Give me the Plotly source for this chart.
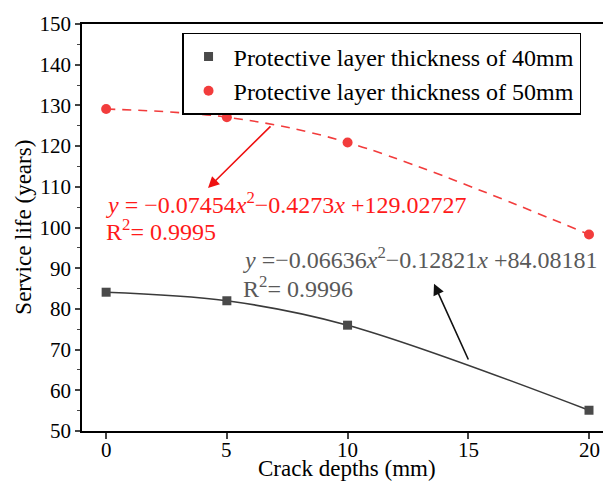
import plotly.graph_objects as go

crack_depths = [0, 5, 10, 20]
life_40mm = [84.1, 82.0, 76.0, 55.1]
life_50mm = [129.1, 127.1, 120.9, 98.3]
series_names = ["Protective layer thickness of 40mm", "Protective layer thickness of 50mm"]
x_ticks = [0, 5, 10, 15, 20]
y_ticks = [50, 60, 70, 80, 90, 100, 110, 120, 130, 140, 150]
x_title = "Crack depths (mm)"
y_title = "Service life (years)"

FONT = "Liberation Serif, Times New Roman, serif"
GRAY = "#4a4a4a"
RED = "#f23c3c"

fig = go.Figure()

# fitted curves (smooth through the points)
fig.add_trace(go.Scatter(x=crack_depths, y=life_40mm, mode="lines", line=dict(color="#3a3a3a", width=1.6, shape="spline"),
                         showlegend=False, hoverinfo="skip"))
fig.add_trace(go.Scatter(x=crack_depths, y=life_50mm, mode="lines", line=dict(color=RED, width=1.6, shape="spline", dash="9px,7px"),
                         showlegend=False, hoverinfo="skip"))
# markers
fig.add_trace(go.Scatter(x=crack_depths, y=life_40mm, mode="markers", name=series_names[0],
                         marker=dict(symbol="square", size=9, color=GRAY)))
fig.add_trace(go.Scatter(x=crack_depths, y=life_50mm, mode="markers", name=series_names[1],
                         marker=dict(symbol="circle", size=10, color=RED)))

EQ = 24
annotations = [
    dict(x=-0.08, y=106.1, xref="x", yref="y", xanchor="left", yanchor="middle", showarrow=False,
         text="<i>y</i> = −0.07454<i>x</i><sup>2</sup>−0.4273<i>x</i> +129.02727",
         font=dict(family=FONT, size=EQ, color="#ff1a1a")),
    dict(x=-0.08, y=99.3, xref="x", yref="y", xanchor="left", yanchor="middle", showarrow=False,
         text="R<sup>2</sup>= 0.9995", font=dict(family=FONT, size=EQ, color="#ff1a1a")),
    dict(x=5.6, y=92.4, xref="x", yref="y", xanchor="left", yanchor="middle", showarrow=False,
         text="<i>y</i> =−0.06636<i>x</i><sup>2</sup>−0.12821<i>x</i> +84.08181",
         font=dict(family=FONT, size=EQ, color="#595959")),
    dict(x=5.6, y=85.3, xref="x", yref="y", xanchor="left", yanchor="middle", showarrow=False,
         text="R<sup>2</sup>= 0.9996", font=dict(family=FONT, size=EQ, color="#595959")),
    dict(x=4.22, y=109.7, ax=6.87, ay=125.2, xref="x", yref="y", axref="x", ayref="y", text="",
         showarrow=True, arrowhead=2, arrowsize=1.4, arrowwidth=1.6, arrowcolor="#ee1111"),
    dict(x=13.58, y=86.2, ax=15.03, ay=67.2, xref="x", yref="y", axref="x", ayref="y", text="",
         showarrow=True, arrowhead=2, arrowsize=1.4, arrowwidth=1.6, arrowcolor="#111111"),
    # axis titles
    dict(x=0.509, y=-0.092, xref="paper", yref="paper", xanchor="center", yanchor="middle", showarrow=False,
         text=x_title, font=dict(family=FONT, size=23, color="black")),
    dict(x=-0.113, y=0.5, xref="paper", yref="paper", xanchor="center", yanchor="middle", showarrow=False,
         text=y_title, textangle=-90, font=dict(family=FONT, size=23, color="black")),
]
# x tick labels, placed at the axis tick values
for t in x_ticks:
    annotations.append(dict(x=t, y=-0.047, xref="x", yref="paper", xanchor="center", yanchor="middle",
                            showarrow=False, text=str(t), font=dict(family=FONT, size=21, color="black")))

fig.update_layout(
    width=603, height=489,
    margin=dict(l=82, r=0, t=24, b=58),
    paper_bgcolor="white", plot_bgcolor="white",
    font=dict(family=FONT, size=21, color="black"),
    showlegend=True,
    legend=dict(x=0.192, y=0.978, xanchor="left", yanchor="top", bgcolor="white",
                bordercolor="black", borderwidth=1.5, font=dict(family=FONT, size=24),
                itemwidth=40, tracegroupgap=0),
    annotations=annotations,
    xaxis=dict(range=[-1, 20.58], tickvals=x_ticks, ticks="outside", ticklen=6, tickwidth=1.5,
               showticklabels=False,
               showline=True, linecolor="black", linewidth=1.5, mirror=True, showgrid=False, zeroline=False),
    yaxis=dict(range=[50, 150], tickvals=y_ticks, ticks="outside", ticklen=5, tickwidth=1.5,
               showline=True, linecolor="black", linewidth=1.5, mirror=False, showgrid=False, zeroline=False,
               minor=dict(dtick=5, ticks="outside", ticklen=3, tickwidth=1.2, showgrid=False),
               tickfont=dict(family=FONT, size=21)),
)

fig.write_html("out.html", config={"displayModeBar": False},
               post_script="document.body.style.margin='0px';")
